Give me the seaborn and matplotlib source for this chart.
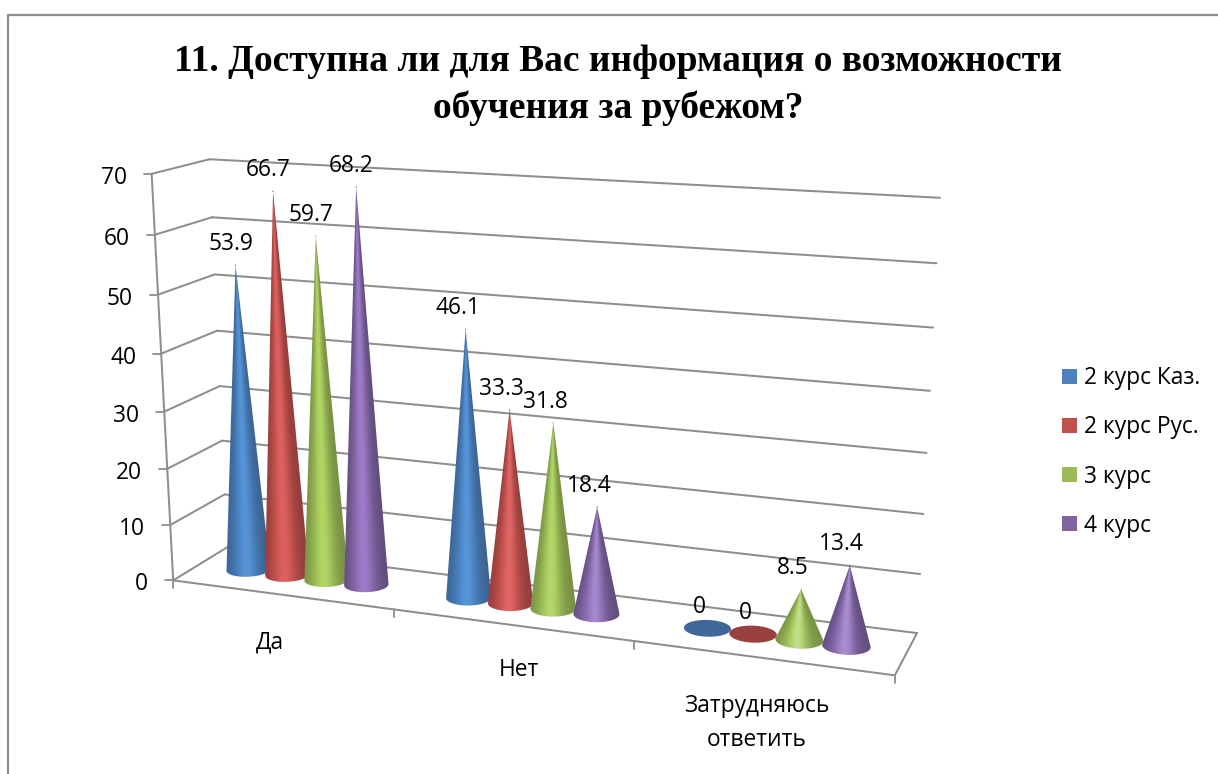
import numpy as np
import pandas as pd
import matplotlib
matplotlib.use("Agg")
import matplotlib.pyplot as plt
from matplotlib.patches import Patch, Polygon
import seaborn as sns

categories = ["Да", "Нет", "Затрудняюсь\nответить"]
series_names = ["2 курс Каз.", "2 курс Рус.", "3 курс", "4 курс"]
kaz2 = [53.9, 46.1, 0]
rus2 = [66.7, 33.3, 0]
year3 = [59.7, 31.8, 8.5]
year4 = [68.2, 18.4, 13.4]
series_values = [kaz2, rus2, year3, year4]
y_ticks = [0, 10, 20, 30, 40, 50, 60, 70]
title = "11. Доступна ли для Вас информация о возможности\nобучения за рубежом?"
series_colors = ["#4f81bd", "#c0504d", "#9bbb59", "#8064a2"]
cone_light = ["#4f90d6", "#dc5c5a", "#add45e", "#9a78c6"]

sns.set_theme(style="white")
plt.rcParams["font.family"] = ["Open Sans", "DejaVu Sans"]
GRID = "#8e8e8e"
FS = 16.4

# Perspective camera of the chart box (category axis u, depth d, value v)
calib = [(0, 0, 0, 173.5, 580), (0, 0, 70, 152, 174), (0, 1, 0, 227, 548), (0, 1, 70, 209, 159),
         (1, 1, 0, 917, 633), (1, 1, 70, 940, 198), (1, 0, 0, 895, 675), (1/3, 0, 0, 393, 610),
         (2/3, 0, 0, 634, 641), (0, 1, 10, 225, 494), (1, 1, 10, 920, 574), (0, 0, 10, 170, 525)]
rows, rhs = [], []
for u, d, v, px, py in calib:
    rows.append([u, d, v, 1, 0, 0, 0, 0, -px*u, -px*d, -px*v]); rhs.append(px)
    rows.append([0, 0, 0, 0, u, d, v, 1, -py*u, -py*d, -py*v]); rhs.append(py)
P = np.append(np.linalg.lstsq(np.array(rows, float), np.array(rhs, float), rcond=None)[0], 1).reshape(3, 4)


def project(u, d, v):
    u, d, v = np.broadcast_arrays(np.asarray(u, float), np.asarray(d, float), np.asarray(v, float))
    q = P @ np.stack([u, d, v, np.ones_like(u)])
    return q[0] / q[2], q[1] / q[2]


fig = plt.figure(figsize=(12.18, 7.74), dpi=100)
ax = fig.add_axes([0, 0, 1, 1])
ax.axis("off")

# Outer chart frame: only its left and top edges are in the picture
ax.plot([7.5, 7.5, 1218], [774, 14.5, 14.5], color="#8c8c8c", lw=1.6)


def seg(a, b, lw=1.45):
    x, y = project([a[0], b[0]], [a[1], b[1]], [a[2], b[2]])
    ax.plot(x, y, color=GRID, lw=lw, solid_capstyle="round", zorder=1)


for v in y_ticks:
    seg((0, 0, v), (0, 1, v))
    seg((0, 1, v), (1, 1, v))
    x, y = project(0, 0, v)
    ax.plot([x - 8, x], [y, y], color=GRID, lw=1.3, zorder=1)
    ax.text(x - 25, y + 4, str(v), ha="right", va="center", fontsize=FS, color="black")
seg((0, 0, 0), (0, 0, 70))
seg((0, 0, 0), (1, 0, 0))
seg((1, 0, 0), (1, 1, 0))
for k in range(4):
    x, y = project(k / 3, 0, 0)
    ax.plot([x, x], [y, y + 8], color=GRID, lw=1.3, zorder=1)

cat_dx = [-11, 8, -5]
cat_dy = [36, 33, 36]
for i, name in enumerate(categories):
    x, y = project((i + .5) / 3, 0, 0)
    ax.text(x + cat_dx[i], y + cat_dy[i], name, ha="center", va="top", fontsize=FS,
            color="black", linespacing=1.55)

# Cones
GAP = 1.5
RU = 1 / 3 / (4 + GAP) / 2
RD = 0.2
ts = np.linspace(0, 2 * np.pi, 241)[:-1]
tips = []
z = 3
for i in range(len(categories)):
    for j in range(len(series_names)):
        val = series_values[j][i]
        uc = (i + (GAP / 2 + j + .5) / (4 + GAP)) / 3
        ex, ey = project(uc + RU * np.cos(ts), 0.5 + RD * np.sin(ts), 0)
        cx, cy = project(uc, 0.5, 0)
        base = np.array(matplotlib.colors.to_rgb(series_colors[j]))
        light = np.array(matplotlib.colors.to_rgb(cone_light[j]))
        tx, ty = project(uc, 0.5, val)
        tips.append((tx, ty, series_names[j]))
        if val == 0:
            ax.fill(ex, ey, color=base * 0.8, lw=0, zorder=z)
        else:
            hw = (ex.max() - ex.min()) / 2
            squat = np.clip(hw / (cy - ty), 0, 1)
            # silhouette: tip, left tangent point, front arc of the base, right tangent point
            ang = np.arctan2(ex - tx, ey - ty)
            il, ir = int(np.argmin(ang)), int(np.argmax(ang))
            idx = [(il + n) % len(ts) for n in range((ir - il) % len(ts) + 1)]
            outline = np.column_stack([np.r_[tx, ex[idx]], np.r_[ty, ey[idx]]])
            x0, x1 = outline[:, 0].min() - 2, outline[:, 0].max() + 2
            y0, y1 = outline[:, 1].min() - 2, outline[:, 1].max() + 2
            gx, gy = np.meshgrid(np.linspace(x0, x1, int((x1 - x0) * 3)),
                                 np.linspace(y0, y1, int((y1 - y0) * 3)))
            f = np.clip((gy - ty) / (cy - ty), 0.004, 1)
            s = np.clip((gx - (tx + (cx - tx) * f)) / (hw * f), -1, 1)
            p = np.exp(-((s + 0.12) / 0.6) ** 2)[..., None]
            col = base * 0.76 * (1 - p) + light * p
            sharp = np.exp(-((s + 0.05) / 0.28) ** 2)[..., None]
            col = col + (1 - col) * 0.55 * squat * sharp
            im = ax.imshow(np.clip(col, 0, 1), extent=(x0, x1, y1, y0), origin="upper",
                           aspect="auto", interpolation="bilinear", zorder=z)
            patch = Polygon(outline, closed=True, transform=ax.transData, facecolor="none", edgecolor="none")
            ax.add_patch(patch)
            im.set_clip_path(patch)
        ax.annotate(str(val), (tx, ty), xytext=(-5 if i == 0 else -8, 21), textcoords="offset pixels",
                    ha="center", va="center", fontsize=FS, color="black", zorder=50)
        z += 1

tip_df = pd.DataFrame(tips, columns=["x", "y", "series"])
sns.scatterplot(data=tip_df, x="x", y="y", hue="series", palette=series_colors, s=1, linewidth=0,
                legend=False, ax=ax, zorder=2)
ax.set_xlim(0, 1218)
ax.set_ylim(774, 0)
ax.set_xlabel("")
ax.set_ylabel("")

ax.text(618, 85, title, ha="center", va="center", family=["Liberation Serif"], weight="bold",
        fontsize=27, color="black", linespacing=1.4)

handles = [Patch(facecolor=c, edgecolor="none") for c in series_colors]
ax.legend(handles, series_names, loc="center left", bbox_to_anchor=(1041 / 1218, 1 - 452 / 774),
          frameon=False, fontsize=FS, handlelength=0.66, handleheight=0.66, handletextpad=0.32,
          labelspacing=1.1, labelcolor="black")

fig.savefig("out.png", dpi=100, facecolor="white")
